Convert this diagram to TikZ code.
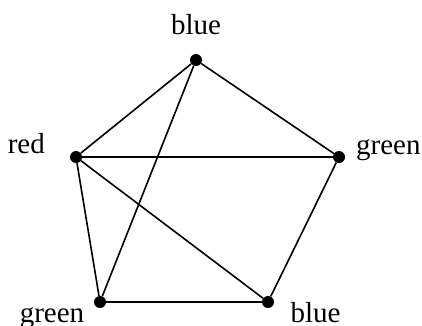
\documentclass[tikz,border=0pt]{standalone}
\usepackage{fontspec}
\setmainfont{Liberation Serif}
\begin{document}
\begin{tikzpicture}[
		x=1pt, y=-1pt,
		vertex/.style={circle, fill=black, inner sep=0pt, minimum size=12pt},
		colour/.style={
			inner sep=0pt,
			font=\fontsize{29}{30}\selectfont
		},
		edge/.style={draw, line width=1.6pt}
		]
		\useasboundingbox (0,0) rectangle (422,325);
		
		\node[vertex] (top) at (196,60) {};
		\node[vertex] (left) at (76,157) {};
		\node[vertex] (right) at (339,157) {};
		\node[vertex] (botleft) at (100,302) {};
		\node[vertex] (botright) at (268,302) {};
		
		\node[colour, anchor=base] (topcol) at (196,34) {blue};
		\node[colour, anchor=base east] (leftcol) at (45,153.5) {red};
		\node[colour, anchor=base west] (rightcol) at (356,154) {green};
		\node[colour, anchor=base] (botleftcol) at (52,322) {green};
		\node[colour, anchor=base] (botrightcol) at (315.5,322) {blue};
		
		\draw[edge] (top) -- (left);
		\draw[edge] (top) -- (right);
		\draw[edge] (top) -- (botleft);
		\draw[edge] (left) -- (right);
		\draw[edge] (left) -- (botleft);
		\draw[edge] (left) -- (botright);
		\draw[edge] (botleft) -- (botright);
		\draw[edge] (right) -- (botright);
	\end{tikzpicture}
\end{document}
